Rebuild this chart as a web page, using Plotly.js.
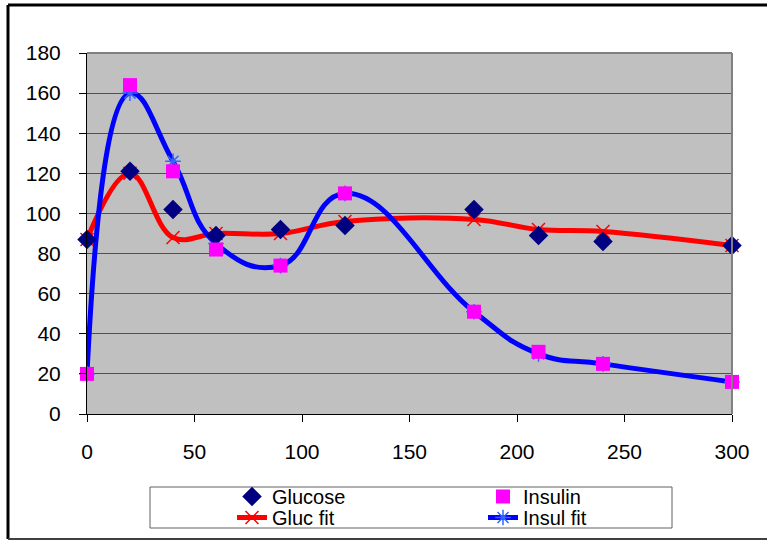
<!DOCTYPE html>
<html>
<head>
<meta charset="utf-8">
<script src="https://cdn.plot.ly/plotly-3.0.1.min.js"></script>
<style>
  html, body { margin: 0; padding: 0; background: #ffffff; }
  #chart { width: 767px; height: 541px; }
</style>
</head>
<body>
<div id="chart"></div>
<script>
// ---- Data ----
const times = [0, 20, 40, 60, 90, 120, 180, 210, 240, 300];
const glucose = [87, 121, 102, 89, 92, 94, 102, 89, 86, 84];
const insulin = [20, 164, 121, 82, 74, 110, 51, 31, 25, 16];
const glucFit = [87, 120, 88, 90, 90, 96, 97, 92, 91, 84];
const insulFit = [20, 160, 126, 85, 74, 110, 51, 30, 25, 16];
const xTicks = [0, 50, 100, 150, 200, 250, 300];
const yTicks = [0, 20, 40, 60, 80, 100, 120, 140, 160, 180];

const FONT = 'Liberation Sans, Arial, sans-serif';

// plot-area pixel geometry (used only for decorative frame shapes / legend placement)
const W = 767, H = 541;
const L = 87, R = 732, T = 53, B = 414;
const px = v => (v - L) / (R - L);
const py = v => (B - v) / (B - T);

const traces = [
  {
    name: 'Gluc fit', x: times, y: glucFit, type: 'scatter', mode: 'lines+markers',
    line: { color: '#FF0000', width: 5, shape: 'spline', smoothing: 1.1 },
    marker: { symbol: 'x-thin-open', size: 13, color: '#FF0000', line: { color: '#FF0000', width: 1.5 } },
    cliponaxis: false, legend: 'legend2'
  },
  {
    name: 'Insul fit', x: times, y: insulFit, type: 'scatter', mode: 'lines+markers',
    line: { color: '#0000FF', width: 5, shape: 'spline', smoothing: 1.3 },
    marker: { symbol: 'asterisk-open', size: 13, color: '#3366FF', line: { color: '#3366FF', width: 1.5 } },
    cliponaxis: false, legend: 'legend2'
  },
  {
    name: 'Glucose', x: times, y: glucose, type: 'scatter', mode: 'markers',
    marker: { symbol: 'diamond', size: 15, color: '#000080' },
    cliponaxis: false, legend: 'legend'
  },
  {
    name: 'Insulin', x: times, y: insulin, type: 'scatter', mode: 'markers',
    marker: { symbol: 'square', size: 14, color: '#FF00FF' },
    cliponaxis: false, legend: 'legend'
  }
];

const shapes = [
  // outer frame
  { type: 'line', xref: 'paper', yref: 'paper', x0: px(8), x1: px(767), y0: py(5), y1: py(5), line: { color: '#000000', width: 3 } },
  { type: 'line', xref: 'paper', yref: 'paper', x0: px(8), x1: px(8), y0: py(5), y1: py(539), line: { color: '#000000', width: 3 } },
  { type: 'line', xref: 'paper', yref: 'paper', x0: px(8), x1: px(767), y0: py(539), y1: py(539), line: { color: '#404040', width: 2 } },
  // plot area top and right edges
  { type: 'line', xref: 'paper', yref: 'paper', x0: 0, x1: 1, y0: 1, y1: 1, line: { color: '#808080', width: 2 } },
  { type: 'line', xref: 'paper', yref: 'paper', x0: 1, x1: 1, y0: 0, y1: 1, line: { color: '#808080', width: 2 } },
  // legend box
  { type: 'rect', xref: 'paper', yref: 'paper', x0: px(150), x1: px(672), y0: py(487), y1: py(528), line: { color: '#606060', width: 1 }, fillcolor: 'rgba(0,0,0,0)' }
];

const legendBase = {
  orientation: 'h',
  x: px(232), xanchor: 'left',
  yanchor: 'top',
  entrywidth: 206, entrywidthmode: 'pixels',
  font: { family: FONT, size: 20, color: '#000000' },
  bgcolor: 'rgba(0,0,0,0)',
  borderwidth: 0,
  itemwidth: 30
};

const layout = {
  width: W, height: H,
  margin: { l: L, r: W - R, t: T, b: H - B, pad: 0, autoexpand: false },
  paper_bgcolor: '#ffffff',
  plot_bgcolor: '#C0C0C0',
  font: { family: FONT, size: 21, color: '#000000' },
  showlegend: true,
  legend: Object.assign({}, legendBase, { y: py(477) }),
  legend2: Object.assign({}, legendBase, { y: py(498) }),
  xaxis: {
    range: [0, 300], tickvals: xTicks, ticktext: xTicks.map(String),
    showgrid: false, zeroline: false,
    showline: true, linecolor: '#000000', linewidth: 1,
    ticks: 'outside', ticklen: 7, tickcolor: '#000000', tickwidth: 1,
    ticklabelstandoff: 12,
    tickfont: { family: FONT, size: 21, color: '#000000' },
    fixedrange: true
  },
  yaxis: {
    range: [0, 180], tickvals: yTicks, ticktext: yTicks.map(String),
    showgrid: true, gridcolor: '#505050', gridwidth: 1,
    zeroline: false,
    showline: true, linecolor: '#000000', linewidth: 1,
    ticks: 'outside', ticklen: 7, tickcolor: '#000000', tickwidth: 1,
    ticklabelstandoff: 14,
    tickfont: { family: FONT, size: 21, color: '#000000' },
    fixedrange: true
  },
  shapes: shapes
};

Plotly.newPlot('chart', traces, layout, { displayModeBar: false, staticPlot: true });
</script>
</body>
</html>
